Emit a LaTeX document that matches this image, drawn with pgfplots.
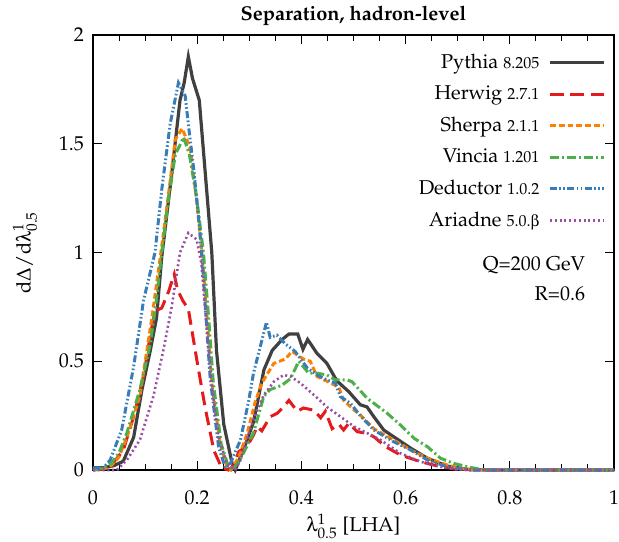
\documentclass[border=0pt]{standalone}
\usepackage[T1]{fontenc}
\usepackage{mathpazo}
\usepackage[Symbol]{upgreek}
\usepackage{pgfplots}
\pgfplotsset{compat=1.18}
\definecolor{cPy}{RGB}{64,64,64}
\definecolor{cHw}{RGB}{228,26,28}
\definecolor{cSh}{RGB}{255,127,0}
\definecolor{cVi}{RGB}{77,175,74}
\definecolor{cDe}{RGB}{55,126,184}
\definecolor{cAr}{RGB}{152,78,163}
\begin{document}
\begin{tikzpicture}
\begin{axis}[
  scale only axis,
  width=260.5pt, height=217.5pt,
  xmin=0, xmax=1, ymin=0, ymax=2,
  xtick={0,0.2,0.4,0.6,0.8,1},
  xticklabels={0,0.2,0.4,0.6,0.8,1},
  minor x tick num=3,
  ytick={0,0.5,1,1.5,2},
  yticklabels={0,0.5,1,1.5,2},
  tick align=inside,
  axis line style={line width=0.7pt},
  every tick/.style={black, line width=0.5pt},
  xticklabel shift=7pt,
  yticklabel shift=1pt,
  xlabel shift=-2.5pt,
  ylabel shift=4pt,
  clip=false,
  title={\textbf{Separation, hadron-level}},
  title style={yshift=-5pt},
  xlabel={$\uplambda^{1}_{0.5}$ [LHA]},
  ylabel={$\mathrm{d}\Delta/\mathrm{d}\uplambda^{1}_{0.5}$},
  legend plot pos=right,
  legend cell align=right,
  legend style={draw=none, fill=none, at={(0.996,0.976)}, anchor=north east, row sep=3.2pt,
    /tikz/every odd column/.append style={column sep=2.5pt}},
  legend image code/.code={\draw[#1] (0pt,0pt) -- (27pt,0pt);},
]
\addplot[color=cPy, line width=1.6pt] coordinates {
(0.0,0.01) (0.02,0.01) (0.04,0.02) (0.058,0.04) (0.078,0.15) (0.094,0.37) (0.110,0.55)
(0.122,0.70) (0.132,0.98) (0.151,1.36) (0.167,1.70) (0.175,1.78) (0.183,1.90) (0.191,1.80)
(0.204,1.70) (0.228,1.00) (0.237,0.55) (0.251,0.21) (0.267,0.03) (0.273,0.0) (0.290,0.10)
(0.308,0.22) (0.328,0.46) (0.344,0.55) (0.363,0.60) (0.376,0.625) (0.393,0.625) (0.403,0.555)
(0.412,0.60) (0.430,0.536) (0.449,0.49) (0.468,0.41) (0.491,0.36) (0.513,0.30) (0.526,0.29)
(0.539,0.245) (0.558,0.184) (0.577,0.153) (0.610,0.10) (0.642,0.054) (0.680,0.018)
(0.72,0.003) (0.76,0.0) (1.0,0.0)};
\addlegendentry{Pythia {\footnotesize 8.205}}
\addplot[color=cHw, line width=1.5pt, dash pattern=on 6.8pt off 3.4pt] coordinates {
(0.0,0.0) (0.02,0.005) (0.033,0.015) (0.058,0.09) (0.078,0.245) (0.097,0.43) (0.110,0.62)
(0.119,0.73) (0.132,0.745) (0.145,0.82) (0.156,0.90) (0.162,0.83) (0.172,0.78) (0.183,0.74)
(0.199,0.51) (0.215,0.29) (0.232,0.09) (0.247,0.01) (0.260,0.0) (0.270,0.02) (0.280,0.085)
(0.296,0.11) (0.308,0.16) (0.315,0.20) (0.324,0.18) (0.340,0.245) (0.353,0.26) (0.366,0.29)
(0.376,0.32) (0.392,0.27) (0.404,0.285) (0.424,0.275) (0.437,0.24) (0.446,0.27) (0.459,0.19)
(0.472,0.21) (0.481,0.184) (0.491,0.215) (0.507,0.176) (0.523,0.17) (0.539,0.153)
(0.562,0.107) (0.590,0.069) (0.629,0.038) (0.667,0.015) (0.70,0.003) (0.74,0.0) (1.0,0.0)};
\addlegendentry{Herwig {\footnotesize 2.7.1}}
\addplot[color=cSh, line width=1.5pt, dash pattern=on 2.9pt off 1.5pt] coordinates {
(0.0,0.0) (0.02,0.005) (0.033,0.015) (0.05,0.06) (0.065,0.15) (0.090,0.34) (0.113,0.70)
(0.132,1.03) (0.145,1.27) (0.158,1.52) (0.171,1.57) (0.180,1.52) (0.187,1.47) (0.199,1.24)
(0.209,1.0) (0.219,0.70) (0.228,0.40) (0.244,0.12) (0.257,0.015) (0.265,0.0) (0.280,0.06)
(0.296,0.17) (0.311,0.31) (0.324,0.40) (0.347,0.49) (0.369,0.51) (0.382,0.545) (0.404,0.51)
(0.417,0.50) (0.430,0.43) (0.456,0.40) (0.472,0.38) (0.481,0.32) (0.501,0.276) (0.513,0.253)
(0.539,0.19) (0.577,0.138) (0.610,0.092) (0.642,0.054) (0.680,0.023) (0.71,0.005) (0.75,0.0)
(1.0,0.0)};
\addlegendentry{Sherpa {\footnotesize 2.1.1}}
\addplot[color=cVi, line width=1.5pt, dash pattern=on 4.5pt off 1.5pt on 1pt off 1.5pt] coordinates {
(0.0,0.0) (0.02,0.01) (0.035,0.03) (0.05,0.08) (0.065,0.17) (0.090,0.37) (0.110,0.58)
(0.120,0.75) (0.132,1.0) (0.145,1.25) (0.158,1.45) (0.174,1.53) (0.185,1.45) (0.199,1.25)
(0.212,1.0) (0.222,0.70) (0.231,0.40) (0.246,0.12) (0.260,0.015) (0.268,0.0) (0.283,0.05)
(0.308,0.17) (0.328,0.34) (0.340,0.37) (0.363,0.39) (0.379,0.42) (0.395,0.50) (0.414,0.445)
(0.430,0.445) (0.449,0.437) (0.465,0.414) (0.488,0.414) (0.497,0.406) (0.513,0.365)
(0.526,0.33) (0.539,0.307) (0.565,0.26) (0.590,0.207) (0.616,0.146) (0.642,0.107)
(0.667,0.054) (0.693,0.03) (0.718,0.015) (0.744,0.003) (0.77,0.0) (1.0,0.0)};
\addlegendentry{Vincia {\footnotesize 1.201}}
\addplot[color=cDe, line width=1.5pt, dash pattern=on 3.5pt off 1.2pt on 0.8pt off 1.2pt on 0.8pt off 1.2pt] coordinates {
(0.0,0.01) (0.02,0.01) (0.033,0.046) (0.055,0.184) (0.078,0.475) (0.097,0.78) (0.119,1.0)
(0.132,1.29) (0.148,1.59) (0.164,1.78) (0.177,1.72) (0.183,1.59) (0.193,1.39) (0.203,1.15)
(0.210,0.95) (0.217,0.70) (0.225,0.42) (0.241,0.107) (0.254,0.01) (0.262,0.02) (0.283,0.138)
(0.299,0.32) (0.308,0.445) (0.321,0.567) (0.333,0.68) (0.340,0.61) (0.353,0.62) (0.369,0.58)
(0.388,0.545) (0.411,0.47) (0.430,0.437) (0.449,0.414) (0.465,0.40) (0.475,0.337)
(0.494,0.307) (0.513,0.25) (0.539,0.184) (0.577,0.13) (0.610,0.092) (0.642,0.046)
(0.680,0.015) (0.72,0.0) (1.0,0.0)};
\addlegendentry{Deductor {\footnotesize 1.0.2}}
\addplot[color=cAr, line width=1.3pt, dash pattern=on 1pt off 1.4pt] coordinates {
(0.0,0.0) (0.046,0.0) (0.065,0.046) (0.090,0.138) (0.116,0.34) (0.135,0.55) (0.151,0.75)
(0.167,1.0) (0.183,1.09) (0.199,1.06) (0.208,0.95) (0.215,0.75) (0.222,0.55) (0.230,0.35)
(0.241,0.15) (0.257,0.03) (0.273,0.0) (0.283,0.046) (0.299,0.17) (0.315,0.276) (0.328,0.345)
(0.347,0.406) (0.366,0.437) (0.379,0.43) (0.398,0.40) (0.424,0.345) (0.449,0.29)
(0.475,0.245) (0.501,0.20) (0.526,0.17) (0.552,0.138) (0.590,0.077) (0.629,0.038)
(0.667,0.015) (0.70,0.003) (0.74,0.0) (1.0,0.0)};
\addlegendentry{Ariadne {\footnotesize 5.0.$\upbeta$}}
\node[anchor=east] at (axis cs:0.958,0.94) {Q=200 GeV};
\node[anchor=east] at (axis cs:0.958,0.81) {R=0.6};
\end{axis}
\pgfresetboundingbox
\path ([shift={(-46.5pt,-35.5pt)}]current axis.south west) rectangle ([shift={(2.5pt,17.5pt)}]current axis.north east);
\end{tikzpicture}
\end{document}
